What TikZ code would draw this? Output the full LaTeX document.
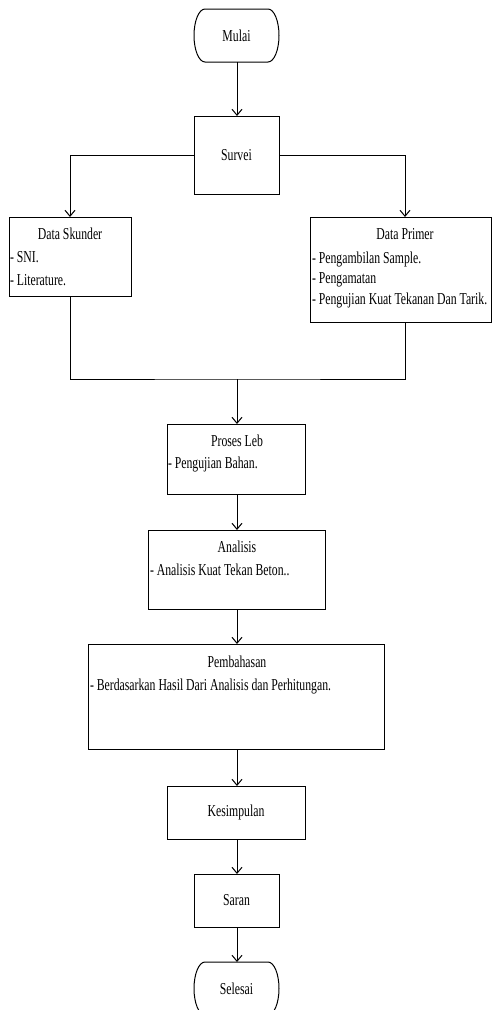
\documentclass[tikz,border=0pt]{standalone}
\usepackage{fontspec}
\setmainfont{Liberation Serif}[FakeStretch=0.705]
\usetikzlibrary{arrows.meta}
\begin{document}
\begin{tikzpicture}[x=0.75pt,y=-0.75pt,
  every node/.style={font=\fontsize{12.5}{14}\selectfont, inner sep=0pt, outer sep=0pt},
  box/.style={draw, rectangle, line width=0.75pt},
  term/.style={rectangle, minimum width=63.75pt, minimum height=39.75pt},
  ln/.style={line width=0.75pt},
  ar/.style={line width=0.75pt, -{Straight Barb[length=4.5pt,width=7.5pt]}},
  tl/.style={anchor=base},
  it/.style={anchor=base west}]
\clip (0,0) rectangle (492,1010);
% terminals
\node[term] (mulai) at (236.5,35.5) {Mulai};
\draw[ln] (205,9) -- (268,9) arc[start angle=90, end angle=-90, x radius=8.25pt, y radius=19.875pt]
  -- (205,62) arc[start angle=270, end angle=90, x radius=8.25pt, y radius=19.875pt] -- cycle;
\node[term] (selesai) at (236.5,988.5) {Selesai};
\draw[ln] (205,962) -- (268,962) arc[start angle=90, end angle=-90, x radius=8.25pt, y radius=19.875pt]
  -- (205,1015) arc[start angle=270, end angle=90, x radius=8.25pt, y radius=19.875pt] -- cycle;
% boxes
\node[box, minimum width=63.75pt, minimum height=58.5pt] (survei) at (236.5,155) {Survei};
\node[box, minimum width=91.5pt, minimum height=59.25pt] (skunder) at (70,256.5) {};
\node[box, minimum width=135.75pt, minimum height=78.75pt] (primer) at (400.5,269.5) {};
\node[box, minimum width=103.5pt, minimum height=52.5pt] (proses) at (236,459) {};
\node[box, minimum width=132.75pt, minimum height=59.25pt] (analisis) at (236.5,569.5) {};
\node[box, minimum width=222pt, minimum height=78.75pt] (pembahasan) at (236,696.5) {};
\node[box, minimum width=103.5pt, minimum height=39.75pt] (kesimpulan) at (236,812.5) {Kesimpulan};
\node[box, minimum width=63.75pt, minimum height=39.75pt] (saran) at (236.5,900.5) {Saran};
% texts
\node[tl] (tsk) at (70,239) {Data Skunder};
\node[it] (tsk1) at (10,262) {- SNI.};
\node[it] (tsk2) at (10,285) {- Literature.};
\node[tl] (tpr) at (405,239) {Data Primer};
\node[it] (tpr1) at (312,263) {- Pengambilan Sample.};
\node[it] (tpr2) at (312,283.5) {- Pengamatan};
\node[it] (tpr3) at (312,304) {- Pengujian Kuat Tekanan Dan Tarik.};
\node[tl] (tpl) at (237,446) {Proses Leb};
\node[it] (tpl1) at (168,468) {- Pengujian Bahan.};
\node[tl] (tan) at (237,552) {Analisis};
\node[it] (tan1) at (150,575) {- Analisis Kuat Tekan Beton..};
\node[tl] (tpe) at (237,667) {Pembahasan};
\node[it] (tpe1) at (90,690) {- Berdasarkan Hasil Dari Analisis dan Perhitungan.};
% connectors
\coordinate (cx) at (237,0);
\coordinate (px) at (405,0);
\coordinate (m) at (237,379);
\draw[ar] (mulai.south -| cx) -- (survei.north -| cx);
\draw[ar] (survei.west) -| (skunder.north);
\draw[ar] (survei.east) -| (primer.north -| px);
\draw[ln] (skunder.south) |- (m) -| (primer.south -| px);
\draw[ar] (m) -- (proses.north -| cx);
\draw[ar] (proses.south -| cx) -- (analisis.north -| cx);
\draw[ar] (analisis.south -| cx) -- (pembahasan.north -| cx);
\draw[ar] (pembahasan.south -| cx) -- (kesimpulan.north -| cx);
\draw[ar] (kesimpulan.south -| cx) -- (saran.north -| cx);
\draw[ar] (saran.south -| cx) -- (selesai.north -| cx);
\end{tikzpicture}
\end{document}
